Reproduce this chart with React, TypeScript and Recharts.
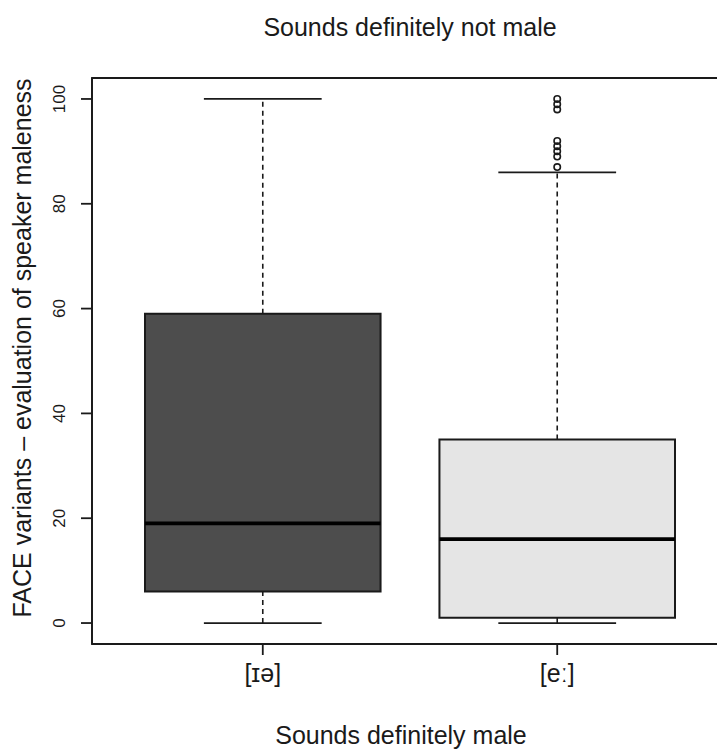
import { ComposedChart, XAxis, YAxis, Scatter, ReferenceArea, ReferenceLine } from 'recharts';

// box plot stats
const categories = ['[ɪə]', '[eː]'];
const lowerWhisker = [0, 0];
const lowerQuartile = [6, 1];
const medians = [19, 16];
const upperQuartile = [59, 35];
const upperWhisker = [100, 86];
const outlierValues = [100, 99, 98, 92, 91, 90, 89, 87]; // all in the [eː] group
const yTicks = [0, 20, 40, 60, 80, 100];

const boxFills = ['#4d4d4d', '#e5e5e5'];
const boxHalf = 0.4;
const capHalf = 0.2;
const xDomain = [0.42, 2.58];
const yDomain = [-4, 104];
const font = '"Liberation Sans", Arial, sans-serif';
const ink = '#1a1a1a';

const outliers = outlierValues.map((v) => ({ x: 2, y: v }));

const YTick = (props: any) => {
  const { x, y, payload } = props;
  const tx = x - 14;
  return (
    <text x={tx} y={y} transform={`rotate(-90 ${tx} ${y})`} textAnchor="middle"
      fontSize={17} fontFamily={font} fill={ink}>
      {payload.value}
    </text>
  );
};

const XTick = (props: any) => {
  const { x, y, payload } = props;
  return (
    <text x={x} y={y + 25} textAnchor="middle" fontSize={25} fontFamily={font} fill={ink}>
      {categories[payload.value - 1]}
    </text>
  );
};

const Circle = (props: any) => (
  <circle cx={props.cx} cy={props.cy} r={3.2} fill="none" stroke={ink} strokeWidth={1.6} />
);

const App = () => {
  return (
    <div style={{ position: 'absolute', left: 0, top: 0, width: 717, height: 753, overflow: 'hidden', background: '#fff' }}>
      <div style={{ position: 'absolute', left: 0, width: 820, top: 13, textAlign: 'center', fontFamily: font, fontSize: 25, color: ink }}>
        Sounds definitely not male
      </div>
      <div style={{ position: 'absolute', left: 0, width: 802, top: 721, textAlign: 'center', fontFamily: font, fontSize: 25, color: ink }}>
        Sounds definitely male
      </div>
      <div style={{ position: 'absolute', left: 22, top: 348, width: 0, height: 0 }}>
        <div style={{ position: 'absolute', transform: 'translate(-50%, -50%) rotate(-90deg)', whiteSpace: 'nowrap', fontFamily: font, fontSize: 25, color: ink }}>
          FACE variants – evaluation of speaker maleness
        </div>
      </div>
      <ComposedChart width={740} height={753} margin={{ top: 78, right: 12, bottom: 0, left: 0 }}>
        <XAxis type="number" dataKey="x" domain={xDomain} ticks={[1, 2]} allowDataOverflow
          height={109} tickSize={11} tick={<XTick />} tickLine={{ stroke: ink, strokeWidth: 1.8 }}
          axisLine={{ stroke: ink, strokeWidth: 1.8 }} />
        <YAxis type="number" dataKey="y" domain={yDomain} ticks={yTicks} allowDataOverflow
          width={92} tickSize={11} tick={<YTick />} tickLine={{ stroke: ink, strokeWidth: 1.8 }}
          axisLine={{ stroke: ink, strokeWidth: 1.8 }} />
        <ReferenceArea x1={xDomain[0]} x2={xDomain[1]} y1={yDomain[0]} y2={yDomain[1]}
          fill="none" stroke={ink} strokeWidth={1.8} />
        {categories.map((c, i) => {
          const pos = i + 1;
          return [
            <ReferenceLine key={`uw${i}`} segment={[{ x: pos, y: upperQuartile[i] }, { x: pos, y: upperWhisker[i] }]}
              stroke={ink} strokeWidth={1.6} strokeDasharray="5 4" />,
            <ReferenceLine key={`lw${i}`} segment={[{ x: pos, y: lowerWhisker[i] }, { x: pos, y: lowerQuartile[i] }]}
              stroke={ink} strokeWidth={1.6} strokeDasharray="5 4" />,
            <ReferenceLine key={`uc${i}`} segment={[{ x: pos - capHalf, y: upperWhisker[i] }, { x: pos + capHalf, y: upperWhisker[i] }]}
              stroke={ink} strokeWidth={1.8} />,
            <ReferenceLine key={`lc${i}`} segment={[{ x: pos - capHalf, y: lowerWhisker[i] }, { x: pos + capHalf, y: lowerWhisker[i] }]}
              stroke={ink} strokeWidth={1.8} />,
            <ReferenceArea key={`box${i}`} x1={pos - boxHalf} x2={pos + boxHalf} y1={lowerQuartile[i]} y2={upperQuartile[i]}
              fill={boxFills[i]} fillOpacity={1} stroke={ink} strokeWidth={2} />,
            <ReferenceLine key={`med${i}`} segment={[{ x: pos - boxHalf, y: medians[i] }, { x: pos + boxHalf, y: medians[i] }]}
              stroke="#000" strokeWidth={3.8} />,
          ];
        })}
        <Scatter data={outliers} dataKey="y" shape={<Circle />} isAnimationActive={false} />
      </ComposedChart>
    </div>
  );
};

export default App;
